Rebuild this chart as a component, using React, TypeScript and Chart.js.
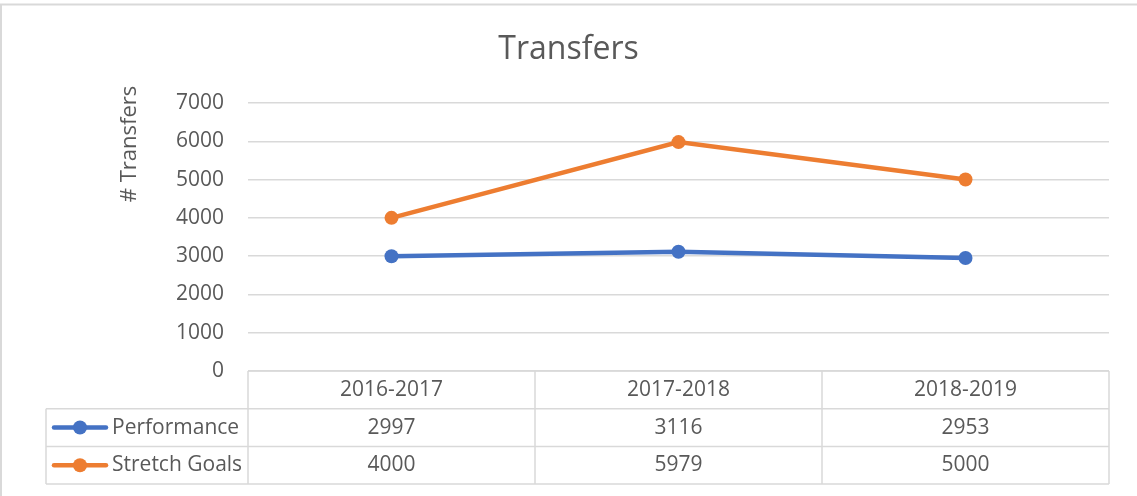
import React, { useEffect, useRef } from "react";
import { Chart, registerables } from "chart.js";

Chart.register(...registerables);

const chartTitle = "Transfers";
const yAxisTitle = "# Transfers";
const categories = ["2016-2017", "2017-2018", "2018-2019"];
const performance = [2997, 3116, 2953];
const stretchGoals = [4000, 5979, 5000];
const seriesNames = ["Performance", "Stretch Goals"];
const seriesColors = ["#4472C4", "#ED7D31"];
const yMin = 0;
const yMax = 7000;
const yStep = 1000;

const FONT = '"Open Sans", "Liberation Sans", sans-serif';
const TEXT = "#595959";
const GRID = "#d9d9d9";
const W = 1137;
const H = 496;

const tablePlugin = {
  id: "dataTable",
  afterDraw(chart: any) {
    const { ctx, chartArea } = chart;
    const x = chart.scales.x;
    const left = chartArea.left;
    const right = chartArea.right;
    const top = chartArea.bottom;
    const rowH = 37.7;
    const legendLeft = 46;
    const series = [performance, stretchGoals];

    ctx.save();
    // outer chart border
    ctx.strokeStyle = GRID;
    ctx.lineWidth = 2;
    ctx.strokeRect(1, 4.5, W + 20, H + 20);

    // table lines
    ctx.lineWidth = 1.5;
    ctx.beginPath();
    ctx.moveTo(left, top);
    ctx.lineTo(right, top);
    for (let r = 1; r <= 3; r++) {
      const y = top + r * rowH;
      ctx.moveTo(legendLeft, y);
      ctx.lineTo(right, y);
    }
    const bounds: number[] = [left];
    for (let i = 0; i < categories.length - 1; i++) {
      bounds.push((x.getPixelForValue(i) + x.getPixelForValue(i + 1)) / 2);
    }
    bounds.push(right);
    bounds.forEach((bx) => {
      ctx.moveTo(bx, top);
      ctx.lineTo(bx, top + 3 * rowH);
    });
    ctx.moveTo(legendLeft, top + rowH);
    ctx.lineTo(legendLeft, top + 3 * rowH);
    ctx.stroke();

    // texts
    ctx.fillStyle = TEXT;
    ctx.font = `21px ${FONT}`;
    ctx.textAlign = "center";
    ctx.textBaseline = "middle";
    categories.forEach((c, i) => {
      ctx.fillText(c, x.getPixelForValue(i), top + rowH / 2);
    });
    series.forEach((vals, s) => {
      const cy = top + rowH * (s + 1.5);
      vals.forEach((v, i) => {
        ctx.fillStyle = TEXT;
        ctx.fillText(String(v), x.getPixelForValue(i), cy);
      });
      // legend key
      ctx.strokeStyle = seriesColors[s];
      ctx.lineWidth = 4.5;
      ctx.lineCap = "round";
      ctx.beginPath();
      ctx.moveTo(54, cy);
      ctx.lineTo(106, cy);
      ctx.stroke();
      ctx.fillStyle = seriesColors[s];
      ctx.beginPath();
      ctx.arc(80, cy, 7, 0, Math.PI * 2);
      ctx.fill();
      ctx.fillStyle = TEXT;
      ctx.textAlign = "left";
      ctx.fillText(seriesNames[s], 112, cy);
      ctx.textAlign = "center";
    });

    // y axis title
    ctx.save();
    ctx.translate(130, 144);
    ctx.rotate(-Math.PI / 2);
    ctx.font = `22px ${FONT}`;
    ctx.fillStyle = TEXT;
    ctx.textAlign = "center";
    ctx.textBaseline = "middle";
    ctx.fillText(yAxisTitle, 0, 0);
    ctx.restore();

    ctx.restore();
  },
};

export default function App() {
  const ref = useRef<HTMLCanvasElement | null>(null);

  useEffect(() => {
    document.body.style.margin = "0";
    const canvas = ref.current;
    if (!canvas) return;
    const chart = new Chart(canvas, {
      type: "line",
      data: {
        labels: categories,
        datasets: [performance, stretchGoals].map((vals, i) => ({
          label: seriesNames[i],
          data: vals,
          borderColor: seriesColors[i],
          backgroundColor: seriesColors[i],
          pointBackgroundColor: seriesColors[i],
          pointBorderColor: seriesColors[i],
          borderWidth: 4.5,
          pointRadius: 7,
          pointBorderWidth: 0,
          borderCapStyle: "round" as const,
          tension: 0,
        })),
      },
      options: {
        responsive: false,
        animation: false,
        layout: { padding: { left: 28, right: 28, top: 0, bottom: 0 } },
        plugins: {
          legend: { display: false },
          tooltip: { enabled: false },
          title: {
            display: true,
            text: chartTitle,
            color: TEXT,
            font: { family: FONT, size: 32, weight: "normal" as any, lineHeight: 1.2 },
            padding: { top: 31, bottom: 33.6 },
          },
        },
        scales: {
          x: {
            type: "category",
            offset: true,
            grid: { display: false, drawTicks: false },
            border: { display: false },
            ticks: { display: false },
            afterFit: (s: any) => {
              s.height = 125;
            },
          },
          y: {
            min: yMin,
            max: yMax,
            ticks: {
              stepSize: yStep,
              color: TEXT,
              padding: 24,
              font: { family: FONT, size: 21 },
              callback: (v: any) => String(v),
            },
            grid: { color: GRID, lineWidth: 1.5, drawTicks: false },
            border: { display: false },
            afterFit: (s: any) => {
              s.width = 220;
            },
          },
        },
      },
      plugins: [tablePlugin],
    });
    return () => chart.destroy();
  }, []);

  return (
    <div style={{ width: W, height: H, background: "#fff" }}>
      <canvas ref={ref} width={W} height={H} />
    </div>
  );
}
